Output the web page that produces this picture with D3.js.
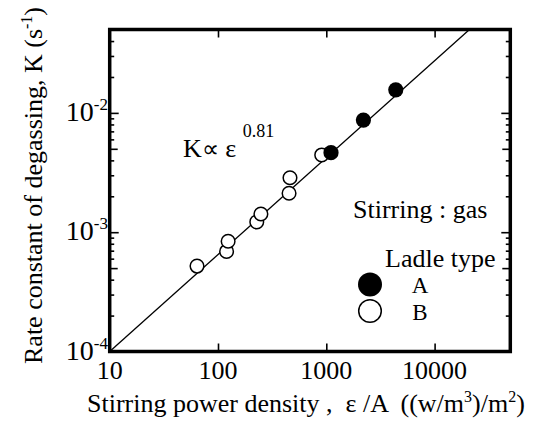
<!DOCTYPE html>
<html>
<head>
<meta charset="utf-8">
<script src="https://cdn.jsdelivr.net/npm/d3@7"></script>
<style>
  body { margin: 0; background: #fff; }
  svg text { font-family: "Liberation Serif", "Times New Roman", serif; fill: #000; white-space: pre; }
</style>
</head>
<body>
<div class="chart"></div>
<script>
// Data
const epsA = [1105, 2200, 4380];            // ladle type A (filled)
const kA = [0.00464, 0.0087, 0.0156];
const epsB = [64, 120, 124, 228, 249, 453, 462, 907]; // ladle type B (open)
const kB = [0.00052, 0.00069, 0.00084, 0.00122, 0.00142, 0.00212, 0.00286, 0.00444];
// fitted line K ∝ ε^0.81, end points
const fitEps = [10, 21000];
const fitK = [0.0001, 0.05];
const xTicks = [10, 100, 1000, 10000];
const yTicks = [1e-4, 1e-3, 1e-2];
const yTickLabels = ['-4', '-3', '-2'];

const width = 550, height = 424;
const pLeft = 109.7, pRight = 510.3, pTop = 29.5, pBottom = 351.5;

const svg = d3.select('.chart').append('svg')
  .attr('width', width).attr('height', height)
  .attr('font-family', 'Liberation Serif, serif');

const x = d3.scaleLog().domain([10, 50000]).range([pLeft, pRight]);
const y = d3.scaleLog().domain([1e-4, 0.05]).range([pBottom, pTop]);

// minor ticks on y (2..9 per decade), 5 a little longer
const yMinor = [], yMid = [];
[1e-4, 1e-3, 1e-2].forEach(d => {
  for (let m = 2; m <= 9; m++) {
    if (d * m > 0.05) continue;
    (m === 5 ? yMid : yMinor).push(d * m);
  }
});

const frame = svg.append('g');
function yTicksAt(xpos, axisFn) {
  [[yTicks, 9], [yMid, 8], [yMinor, 4.5]].forEach(([vals, len]) => {
    frame.append('g').attr('transform', `translate(${xpos},0)`)
      .call(axisFn(y).tickValues(vals).tickSize(len).tickFormat(''))
      .call(g => g.select('.domain').remove());
  });
}
yTicksAt(pLeft, d3.axisRight);
yTicksAt(pRight, d3.axisLeft);

// bottom & top axes
frame.append('g').attr('transform', `translate(0,${pBottom})`)
  .call(d3.axisTop(x).tickValues(xTicks).tickSize(8).tickFormat(''))
  .call(g => g.select('.domain').remove());
frame.append('g').attr('transform', `translate(0,${pTop})`)
  .call(d3.axisBottom(x).tickValues(xTicks).tickSize(8).tickFormat(''))
  .call(g => g.select('.domain').remove());
frame.selectAll('.tick line').attr('stroke', '#000').attr('stroke-width', 1.6);

// frame box
svg.append('rect')
  .attr('x', pLeft).attr('y', pTop)
  .attr('width', pRight - pLeft).attr('height', pBottom - pTop)
  .attr('fill', 'none').attr('stroke', '#000').attr('stroke-width', 3.5);

// tick labels
svg.selectAll('.xlab').data(xTicks).enter()
  .append('text').attr('class', 'xlab')
  .attr('x', d => x(d)).attr('y', 379)
  .attr('text-anchor', 'middle')
  .style('font-size', '26px')
  .text(d => d);

const ylab = svg.selectAll('.ylab').data(yTicks).enter()
  .append('text').attr('class', 'ylab')
  .attr('x', 108).attr('y', d => y(d) + 8)
  .attr('text-anchor', 'end')
  .style('font-size', '28px');
ylab.append('tspan').text('10');
ylab.append('tspan').attr('dy', -11).style('font-size', '17px')
  .text((d, i) => yTickLabels[i]);

// fit line
svg.append('line')
  .attr('x1', x(fitEps[0])).attr('y1', y(fitK[0]))
  .attr('x2', x(fitEps[1])).attr('y2', y(fitK[1]))
  .attr('stroke', '#000').attr('stroke-width', 1.3);

// points
svg.selectAll('.ptB').data(epsB).enter()
  .append('circle').attr('class', 'ptB')
  .attr('cx', d => x(d)).attr('cy', (d, i) => y(kB[i]))
  .attr('r', 6.8)
  .attr('fill', '#fff').attr('stroke', '#000').attr('stroke-width', 1.5);
svg.selectAll('.ptA').data(epsA).enter()
  .append('circle').attr('class', 'ptA')
  .attr('cx', d => x(d)).attr('cy', (d, i) => y(kA[i]))
  .attr('r', 7.6)
  .attr('fill', '#000');

// relation label
const rel = svg.append('text').attr('x', 183).attr('y', 157)
  .style('font-size', '26px');
rel.append('tspan').text('K');
rel.append('tspan').text('\u221D').style('font-size', '24px');
rel.append('tspan').text(' \u03B5 ');
rel.append('tspan').attr('dy', -20).style('font-size', '18px').text('0.81');

// annotations
svg.append('text').attr('x', 353).attr('y', 218)
  .style('font-size', '26px').text('Stirring : gas');
svg.append('text').attr('x', 385).attr('y', 267)
  .style('font-size', '26px').text('Ladle type');
svg.append('circle').attr('cx', 370).attr('cy', 284.5).attr('r', 12).attr('fill', '#000');
svg.append('circle').attr('cx', 370).attr('cy', 311).attr('r', 11.3)
  .attr('fill', '#fff').attr('stroke', '#000').attr('stroke-width', 1.5);
svg.append('text').attr('x', 420).attr('y', 293).attr('text-anchor', 'middle')
  .style('font-size', '23px').text('A');
svg.append('text').attr('x', 420).attr('y', 320).attr('text-anchor', 'middle')
  .style('font-size', '23px').text('B');

// axis titles
const xt = svg.append('text').attr('x', 87).attr('y', 412)
  .style('font-size', '26px');
xt.append('tspan').text('Stirring power density ,  \u03B5 /A  ((w/m');
xt.append('tspan').attr('dy', -10).style('font-size', '16px').text('3');
xt.append('tspan').attr('dy', 10).text(')/m');
xt.append('tspan').attr('dy', -10).style('font-size', '16px').text('2');
xt.append('tspan').attr('dy', 10).text(')');

const yt = svg.append('text')
  .attr('transform', 'translate(42,364) rotate(-90)')
  .style('font-size', '26px');
yt.append('tspan').text('Rate constant of degassing, K (s');
yt.append('tspan').attr('dy', -10).style('font-size', '16px').text('-1');
yt.append('tspan').attr('dy', 10).text(')');
</script>
</body>
</html>
